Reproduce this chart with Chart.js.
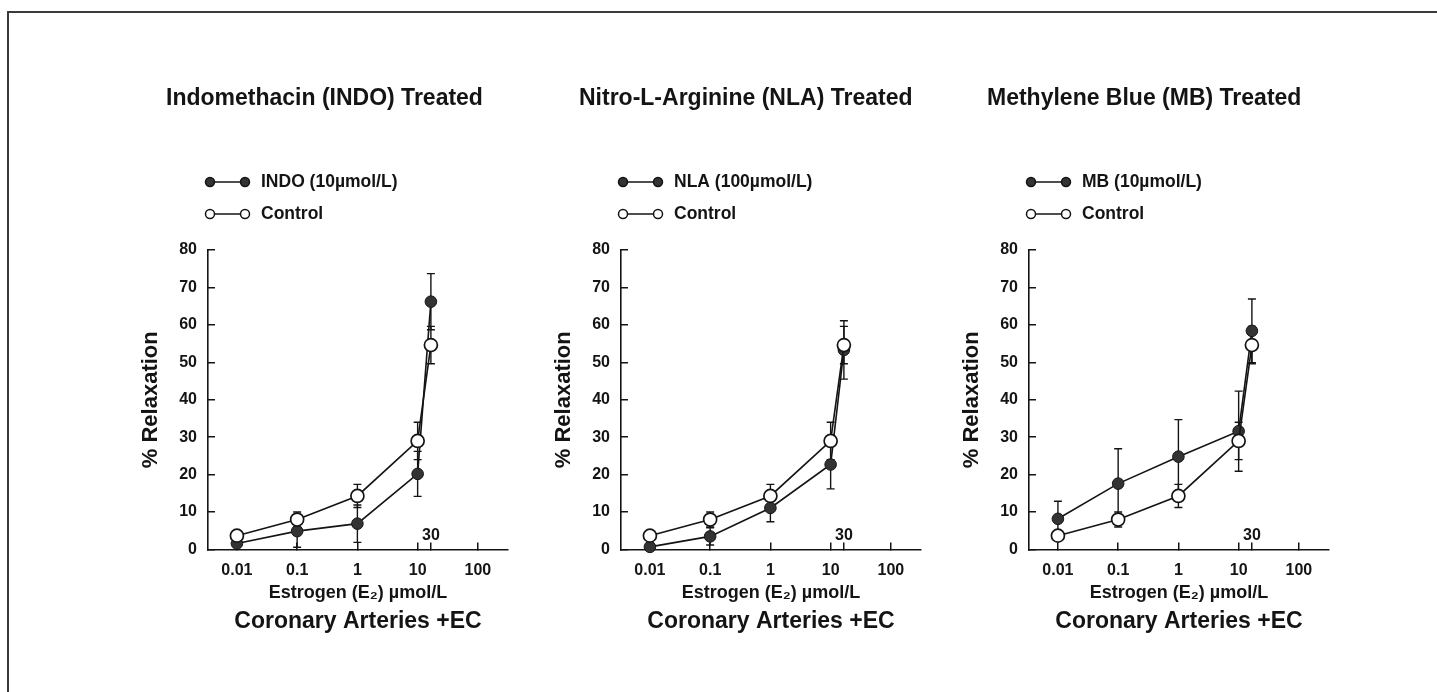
<!DOCTYPE html>
<html lang="en">
<head>
<meta charset="UTF-8">
<title>Estrogen relaxation, coronary arteries +EC</title>
<script src="https://cdn.jsdelivr.net/npm/chart.js"></script>
<style>
  body { margin: 0; background: #fff; font-family: "Liberation Sans", Arial, sans-serif; }
  #frame { position: absolute; left: 7px; top: 11px; right: 0; bottom: 0; border-top: 2px solid #3a3a3a; border-left: 2px solid #3a3a3a; }
  .panel { position: absolute; top: 0; }
</style>
</head>
<body>
<div id="frame"></div>
<canvas class="panel" id="c1" width="420" height="692" style="left:108px"></canvas>
<canvas class="panel" id="c2" width="420" height="692" style="left:521px"></canvas>
<canvas class="panel" id="c3" width="420" height="692" style="left:929px"></canvas>

<script>
// E2 doses and where they sit on the drawn axis (decades from 1; "30" is drawn just past 10)
var doseLabels = ['0.01', '0.1', '1', '10', '30'];
var dosePos = [-2, -1, 0, 1, 1.22];
var tickPos = [-2, -1, 0, 1, 1.22, 2];
var tickLabels = ['0.01', '0.1', '1', '10', '30', '100'];

// % relaxation, mean and error
var control = [3.7, 8.0, 14.3, 29.0, 54.6];
var controlErr = [0.6, 2.0, 3.1, 5.0, 5.0];
var indo = [1.6, 4.9, 6.9, 20.2, 66.2];
var indoErr = [0.8, 4.3, 5.0, 6.0, 7.5];
var nla = [0.7, 3.5, 11.1, 22.7, 53.3];
var nlaErr = [0.5, 2.3, 3.7, 6.5, 7.8];
var mb = [8.2, 17.6, 24.8, 31.6, 58.4];
var mbErr = [4.7, 9.3, 9.9, 10.7, 8.5];

var ink = '#141414';
var dark = '#333';
var fontFam = '"Liberation Sans", Arial, sans-serif';

function points(vals) {
    return vals.map(function(v, i) { return { x: dosePos[i], y: v }; });
}

// error bars go behind the markers
var errorBars = {
    id: 'errorBars',
    beforeDatasetsDraw: function(chart) {
        var ctx = chart.ctx, ys = chart.scales.y;
        chart.data.datasets.forEach(function(ds, i) {
            var meta = chart.getDatasetMeta(i);
            ctx.save();
            ctx.strokeStyle = ink;
            ctx.lineWidth = 1.4;
            meta.data.forEach(function(pt, j) {
                var v = ds.data[j].y, e = ds.errors[j];
                var top = ys.getPixelForValue(v + e);
                var bot = ys.getPixelForValue(Math.max(v - e, 0));
                ctx.beginPath();
                ctx.moveTo(pt.x, top); ctx.lineTo(pt.x, bot);
                ctx.moveTo(pt.x - 4, top); ctx.lineTo(pt.x + 4, top);
                ctx.moveTo(pt.x - 4, bot); ctx.lineTo(pt.x + 4, bot);
                ctx.stroke();
            });
            ctx.restore();
        });
    }
};

// panel title, legend, the raised "30" label and the caption
var panelText = {
    id: 'panelText',
    afterDraw: function(chart, args, opts) {
        var ctx = chart.ctx, a = chart.chartArea;
        ctx.save();
        ctx.fillStyle = ink;
        ctx.textBaseline = 'middle';
        ctx.textAlign = 'left';
        ctx.font = 'bold 23px ' + fontFam;
        ctx.fillText(opts.title, a.left - 42, a.top - 151);

        var rows = [
            { label: opts.treated, fill: dark, y: a.top - 68 },
            { label: 'Control', fill: '#fff', y: a.top - 36 }
        ];
        ctx.font = 'bold 17.5px ' + fontFam;
        rows.forEach(function(r) {
            ctx.strokeStyle = ink;
            ctx.lineWidth = 1.5;
            ctx.beginPath();
            ctx.moveTo(a.left + 2, r.y); ctx.lineTo(a.left + 37, r.y);
            ctx.stroke();
            [a.left + 2, a.left + 37].forEach(function(x) {
                ctx.beginPath();
                ctx.arc(x, r.y, 4.5, 0, Math.PI * 2);
                ctx.fillStyle = r.fill;
                ctx.fill();
                ctx.stroke();
            });
            ctx.fillStyle = ink;
            ctx.fillText(r.label, a.left + 53, r.y);
        });

        ctx.textAlign = 'center';
        ctx.font = 'bold 16px ' + fontFam;
        var xi = tickLabels.indexOf('30');
        ctx.fillText(tickLabels[xi], chart.scales.x.getPixelForValue(tickPos[xi]), a.bottom - 14);

        ctx.font = 'bold 23px ' + fontFam;
        ctx.fillText('Coronary Arteries +EC', (a.left + a.right) / 2, a.bottom + 72);
        ctx.restore();
    }
};

function makePanel(id, title, treated, vals, errs) {
    new Chart(document.getElementById(id), {
        type: 'scatter',
        data: {
            datasets: [{
                label: 'Control',
                data: points(control),
                errors: controlErr,
                showLine: true,
                borderColor: ink,
                borderWidth: 1.6,
                pointRadius: 6.5,
                pointBorderWidth: 1.7,
                pointBackgroundColor: '#fff',
                pointBorderColor: ink,
                clip: false
            }, {
                label: treated,
                data: points(vals),
                errors: errs,
                showLine: true,
                borderColor: ink,
                borderWidth: 1.6,
                pointRadius: 5.8,
                pointBorderWidth: 1,
                pointBackgroundColor: dark,
                pointBorderColor: ink,
                clip: false
            }]
        },
        options: {
            responsive: false,
            animation: false,
            layout: { padding: { top: 250, right: 20, bottom: 82.5, left: 0 } },
            plugins: {
                legend: { display: false },
                tooltip: { enabled: false },
                panelText: { title: title, treated: treated }
            },
            scales: {
                x: {
                    type: 'linear',
                    min: -2.48,
                    max: 2.5,
                    afterBuildTicks: function(scale) {
                        scale.ticks = tickPos.map(function(v) { return { value: v }; });
                    },
                    afterFit: function(scale) { scale.height = 60; },
                    grid: { drawOnChartArea: false, tickLength: -7, color: ink, lineWidth: 1.5 },
                    border: { color: ink, width: 1.6 },
                    ticks: {
                        autoSkip: false,
                        maxRotation: 0,
                        padding: 18,
                        color: ink,
                        font: { family: fontFam, size: 16, weight: 'bold' },
                        callback: function(v, i) { return tickLabels[i] === '30' ? '' : tickLabels[i]; }
                    },
                    title: {
                        display: true,
                        text: 'Estrogen (E\u2082) \u00b5mol/L',
                        color: ink,
                        padding: { top: 0, bottom: 6 },
                        font: { family: fontFam, size: 18, weight: 'bold' }
                    }
                },
                y: {
                    min: 0,
                    max: 80,
                    afterFit: function(scale) { scale.width = 100; },
                    grid: { drawOnChartArea: false, tickLength: -7, color: ink, lineWidth: 1.5 },
                    border: { color: ink, width: 1.6 },
                    ticks: {
                        stepSize: 10,
                        padding: 18,
                        color: ink,
                        font: { family: fontFam, size: 16, weight: 'bold' }
                    },
                    title: {
                        display: true,
                        text: '% Relaxation',
                        color: ink,
                        padding: { top: 30, bottom: 0 },
                        font: { family: fontFam, size: 22, weight: 'bold' }
                    }
                }
            }
        },
        plugins: [errorBars, panelText]
    });
}

makePanel('c1', 'Indomethacin (INDO) Treated', 'INDO (10\u00b5mol/L)', indo, indoErr);
makePanel('c2', 'Nitro-L-Arginine (NLA) Treated', 'NLA (100\u00b5mol/L)', nla, nlaErr);
makePanel('c3', 'Methylene Blue (MB) Treated', 'MB (10\u00b5mol/L)', mb, mbErr);
</script>
</body>
</html>
